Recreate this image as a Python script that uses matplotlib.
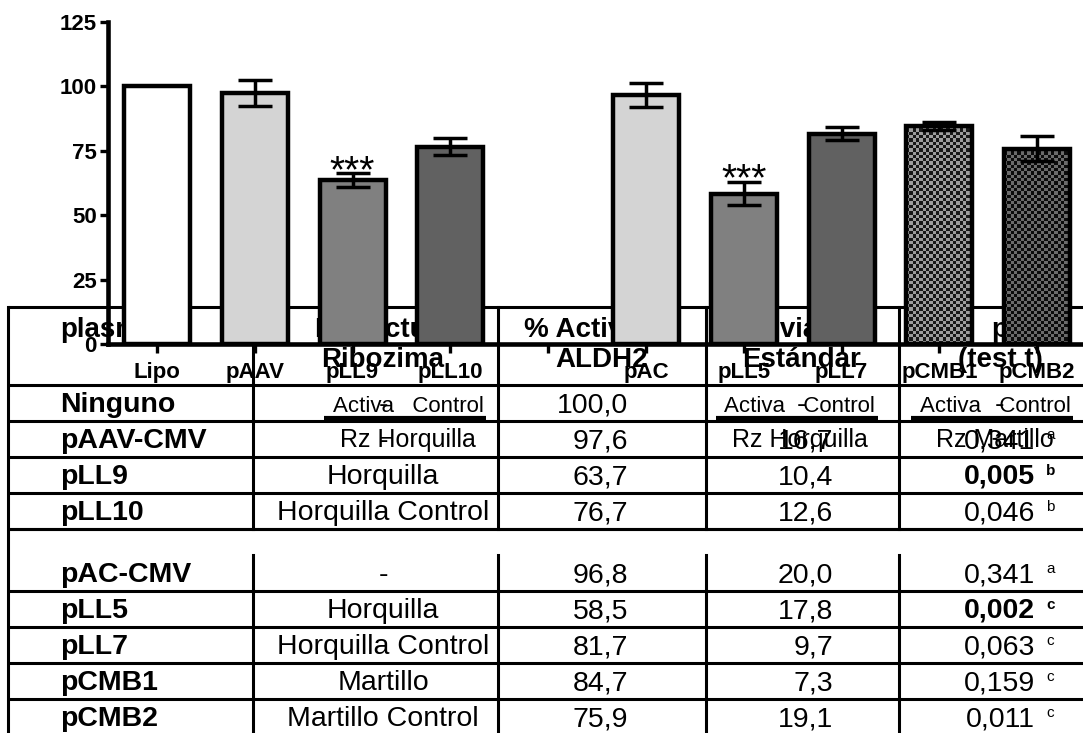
import numpy as np
import matplotlib
matplotlib.use("Agg")
import matplotlib.pyplot as plt

plt.rcParams['font.family'] = ['Liberation Sans', 'DejaVu Sans']

# chart: one bar per transfection, heights are the % activity of the table
bar_labels = ["Lipo", "pAAV", "pLL9", "pLL10", "pAC", "pLL5", "pLL7", "pCMB1", "pCMB2"]
bar_err = [0, 5.0, 2.7, 3.3, 4.7, 4.6, 2.6, 1.5, 4.8]
starred = ["pLL9", "pLL5"]
groups = [("pLL9", "pLL10", "Rz Horquilla"),
          ("pLL5", "pLL7", "Rz Horquilla"),
          ("pCMB1", "pCMB2", "Rz Martillo")]

# table
plasmids = ["Ninguno", "pAAV-CMV", "pLL9", "pLL10",
            "pAC-CMV", "pLL5", "pLL7", "pCMB1", "pCMB2"]
structure = ["-", "-", "Horquilla", "Horquilla Control",
             "-", "Horquilla", "Horquilla Control", "Martillo", "Martillo Control"]
activity = [100.0, 97.6, 63.7, 76.7, 96.8, 58.5, 81.7, 84.7, 75.9]
std_dev = [None, 16.7, 10.4, 12.6, 20.0, 17.8, 9.7, 7.3, 19.1]
p_values = [None, 0.341, 0.005, 0.046, 0.341, 0.002, 0.063, 0.159, 0.011]
p_marks = [None, "a", "b", "b", "a", "c", "c", "c", "c"]
headers = [("plasmido", ""), ("Estructura", "Ribozima"), ("% Actividad", "ALDH2"),
           ("Desviación", "Estándar"), ("p", "(test t)")]


def coma(v, nd):
    return f"{v:.{nd}f}".replace(".", ",")


fig = plt.figure(figsize=(10.83, 7.33), dpi=100)

# ---- table, drawn in pixel units underneath the chart ----
tab = fig.add_axes([0, 0, 1, 1])
tab.set_xlim(0, 1083)
tab.set_ylim(733, 0)
tab.axis('off')

col_x = [8, 253, 498, 706, 899]
top, head_h, row_h, blank_h = 307, 78, 36, 26
row_tops = []
y = top + head_h
for i in range(len(plasmids)):
    if i == 4:
        y += blank_h
    row_tops.append(y)
    y += row_h
blank_top = row_tops[3] + row_h

lw = 2.2
for yy in [top, top + head_h] + [r + row_h for r in row_tops] + [blank_top]:
    tab.plot([col_x[0], 1083], [yy, yy], color='k', lw=lw, solid_capstyle='butt')
tab.plot([col_x[0]] * 2, [top, 740], color='k', lw=lw)
for cx in col_x[1:]:
    tab.plot([cx, cx], [top, blank_top], color='k', lw=lw)
    tab.plot([cx, cx], [blank_top + blank_h, 740], color='k', lw=lw)

head_x = [60, 383, 602, 802, 1000]
for i, (l1, l2) in enumerate(headers):
    ha = 'left' if i == 0 else 'center'
    tab.text(head_x[i], 337, l1, ha=ha, va='baseline', fontsize=20, fontweight='bold')
    tab.text(head_x[i], 367, l2, ha=ha, va='baseline', fontsize=20, fontweight='bold')

fs = 20.5
for i, rt in enumerate(row_tops):
    base = rt + row_h - 9
    tab.text(60, base, plasmids[i], fontsize=fs, fontweight='bold', va='baseline')
    tab.text(383, base, structure[i], fontsize=fs, ha='center', va='baseline')
    tab.text(628, base, coma(activity[i], 1), fontsize=fs, ha='right', va='baseline')
    if std_dev[i] is None:
        tab.text(802, base, "-", fontsize=fs, ha='center', va='baseline')
        tab.text(1000, base, "-", fontsize=fs, ha='center', va='baseline')
        continue
    tab.text(833, base, coma(std_dev[i], 1), fontsize=fs, ha='right', va='baseline')
    w = 'bold' if p_values[i] < 0.01 else 'normal'
    tab.text(1035, base, coma(p_values[i], 3), fontsize=fs, ha='right',
             va='baseline', fontweight=w)
    tab.text(1046, base - 9, p_marks[i], fontsize=11, ha='left',
             va='baseline', fontweight=w)

# ---- bar chart on top ----
ax = fig.add_axes([107.5 / 1083, (733 - 344.4) / 733,
                   (1083 - 107.5) / 1083, (344.4 - 22) / 733])
ax.patch.set_alpha(0)

x = np.arange(len(bar_labels), dtype=float)
x[4:] += 1  # empty slot between the pAAV and pAC series
width = 0.675
colors = ['white', '#d4d4d4', '#808080', '#616161',
          '#d4d4d4', '#808080', '#616161', 'white', 'white']

bars = ax.bar(x, activity, width=width, color=colors, edgecolor='none', zorder=2)

# checkered fill for the hammerhead constructs
checker = {"pCMB1": (0.62, 0.1), "pCMB2": (0.42, 0.05)}
for lab, (light, dark) in checker.items():
    i = bar_labels.index(lab)
    h = activity[i]
    ny, nx = int(round(h / 1.28)), 20
    pat = np.where(np.indices((ny, nx)).sum(axis=0) % 2 == 0, light, dark)
    im = ax.imshow(pat, cmap='gray', vmin=0, vmax=1, aspect='auto',
                   interpolation='nearest', zorder=2.5,
                   extent=(x[i] - width / 2, x[i] + width / 2, 0, h))
    im.set_clip_path(bars[i])

ax.bar(x, activity, width=width, color='none', edgecolor='k', linewidth=3.2, zorder=3)

has_err = [e > 0 for e in bar_err]
ax.errorbar(x[has_err], np.array(activity)[has_err], yerr=np.array(bar_err)[has_err],
            fmt='none', ecolor='k', elinewidth=2.5, capsize=12, capthick=2.5, zorder=4)

for lab in starred:
    i = bar_labels.index(lab)
    ax.text(x[i], activity[i] + bar_err[i] - 3.4, "***", ha='center',
            va='baseline', fontsize=28, zorder=5)

xt = ax.get_xaxis_transform()
for a, b, name in groups:
    ia, ib = bar_labels.index(a), bar_labels.index(b)
    mid = (x[ia] + x[ib]) / 2 + 0.07
    ax.text(mid, -0.2097, "Activa   Control", transform=xt, ha='center',
            va='baseline', fontsize=16, clip_on=False)
    ax.plot([x[ia] - width / 2 + 0.05, x[ib] + width / 2 + 0.03], [-0.228, -0.228],
            transform=xt, color='k', lw=3, clip_on=False, solid_capstyle='butt')
    ax.text(mid, -0.318, name, transform=xt, ha='center', va='baseline',
            fontsize=18, clip_on=False)

ticks = list(x[:4]) + [4.0] + list(x[4:])
ax.set_xticks(ticks)
ax.set_xticklabels(bar_labels[:4] + [""] + bar_labels[4:], fontsize=16, fontweight='bold')
ax.set_yticks([0, 25, 50, 75, 100, 125])
ax.set_yticklabels(["0", "25", "50", "75", "100", "125"], fontsize=16, fontweight='bold')
ax.set_xlim(-0.506, 9.468)
ax.set_ylim(0, 125)
ax.tick_params(axis='x', length=6.5, width=2.4, pad=6, direction='out')
ax.tick_params(axis='y', length=5.8, width=2.4, pad=2, direction='out')
ax.spines['top'].set_visible(False)
ax.spines['right'].set_visible(False)
ax.spines['left'].set_linewidth(3.3)
ax.spines['bottom'].set_linewidth(3.3)

fig.savefig("out.png", dpi=100)
